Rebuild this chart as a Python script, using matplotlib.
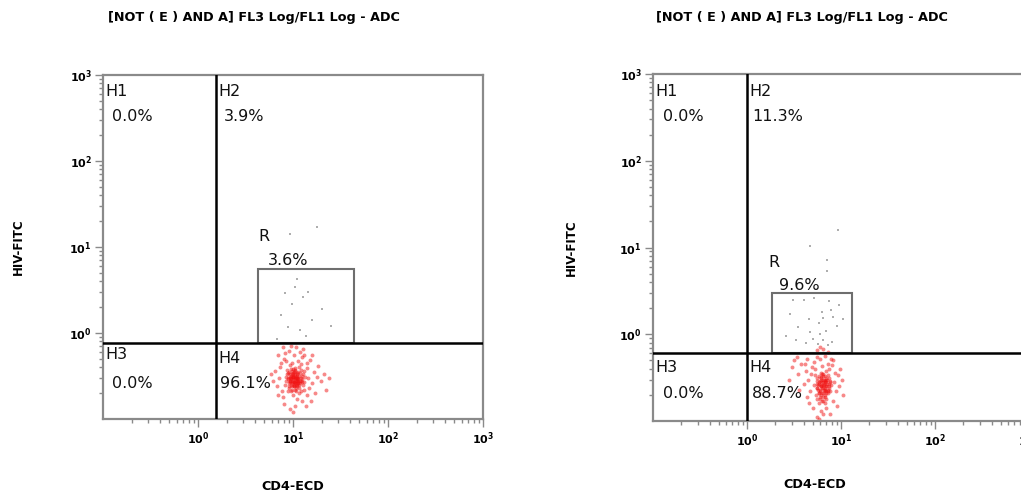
import matplotlib
matplotlib.use('Agg')
import matplotlib.pyplot as plt
from matplotlib.patches import Rectangle
from matplotlib.ticker import LogLocator, FixedLocator, FixedFormatter, NullFormatter

plt.rcParams['font.family'] = ['DejaVu Sans']

# ---------------- data ----------------
title_text = "[NOT ( E ) AND A] FL3 Log/FL1 Log - ADC"
x_label = "CD4-ECD"
y_label = "HIV-FITC"
major_ticks = [1, 10, 100, 1000]
major_tick_labels = [r'$\mathregular{10^{0}}$', r'$\mathregular{10^{1}}$',
                     r'$\mathregular{10^{2}}$', r'$\mathregular{10^{3}}$']
quadrant_names = ["H1", "H2", "H3", "H4"]
left_pcts = ["0.0%", "3.9%", "0.0%", "96.1%"]
right_pcts = ["0.0%", "11.3%", "0.0%", "88.7%"]
region_name = "R"
left_region_pct = "3.6%"
right_region_pct = "9.6%"

# quadrant gates (x, y)
left_gate = (1.55, 0.76)
right_gate = (1.0, 0.6)
# region R box (x0, x1, y0, y1)
left_box = (4.3, 44.0, 0.76, 5.6)
right_box = (1.85, 13.0, 0.6, 3.0)

# events, left sample (red = H4 population)
left_red_x = [9.2, 10.1, 11.3, 8.7, 12.4, 9.8, 10.6, 11.9, 8.3, 13.1,
              9.5, 10.9, 12.0, 8.9, 11.5, 10.3, 9.0, 12.8, 10.7, 9.6,
              11.1, 8.5, 13.4, 10.0, 11.7, 9.3, 12.2, 10.4, 8.8, 11.0,
              9.9, 12.6, 10.2, 9.4, 11.4, 10.8, 8.6, 13.0, 9.7, 11.2,
              10.5, 9.1, 12.1, 10.6, 11.8, 8.4, 12.9, 9.6, 10.9, 11.6,
              7.2, 6.8, 7.5, 14.5, 15.8, 16.5, 7.9, 14.2, 6.5, 17.8,
              8.1, 12.5, 10.2, 9.0, 11.8, 13.9, 7.0, 15.2, 9.5, 10.8,
              8.0, 10.5, 12.3, 9.2, 11.1, 13.6, 7.6, 14.8, 19.5, 21.0,
              6.2, 16.9, 18.2, 7.3, 13.2, 8.5, 11.4, 14.0, 6.9, 15.5,
              9.8, 12.0, 10.0, 8.2, 16.0, 24.0, 7.8, 12.7, 22.0, 5.9,
              9.9, 10.4, 10.0, 9.7, 10.8, 11.0, 9.5, 10.2, 10.6, 9.3,
              10.1, 11.2, 9.8, 10.5, 10.9, 9.6, 10.3, 11.4, 9.4, 10.7,
              10.0, 9.9, 10.6, 11.1, 9.2, 10.4, 10.8, 9.7, 11.3, 10.2,
              9.0, 12.0, 11.6, 8.8, 12.3, 9.1, 11.8, 8.9, 12.5, 10.5,
              9.6, 10.9, 10.1, 11.5, 9.4, 10.3, 11.0, 9.8, 10.7, 10.0]
left_red_y = [0.28, 0.31, 0.26, 0.33, 0.29, 0.22, 0.36, 0.34, 0.25, 0.27,
              0.38, 0.24, 0.21, 0.30, 0.40, 0.27, 0.35, 0.33, 0.30, 0.25,
              0.32, 0.28, 0.31, 0.19, 0.23, 0.42, 0.37, 0.33, 0.21, 0.28,
              0.31, 0.25, 0.24, 0.27, 0.35, 0.21, 0.37, 0.22, 0.33, 0.30,
              0.26, 0.23, 0.28, 0.39, 0.26, 0.31, 0.36, 0.29, 0.34, 0.20,
              0.30, 0.24, 0.45, 0.30, 0.26, 0.35, 0.18, 0.19, 0.36, 0.31,
              0.50, 0.52, 0.55, 0.62, 0.60, 0.45, 0.55, 0.48, 0.70, 0.68,
              0.15, 0.14, 0.16, 0.13, 0.17, 0.14, 0.21, 0.23, 0.28, 0.33,
              0.28, 0.20, 0.41, 0.40, 0.56, 0.47, 0.47, 0.39, 0.19, 0.16,
              0.45, 0.44, 0.12, 0.58, 0.55, 0.30, 0.68, 0.66, 0.22, 0.33,
              0.27, 0.29, 0.31, 0.26, 0.28, 0.33, 0.30, 0.25, 0.32, 0.28,
              0.34, 0.27, 0.24, 0.30, 0.26, 0.32, 0.35, 0.29, 0.30, 0.23,
              0.29, 0.33, 0.27, 0.25, 0.31, 0.22, 0.31, 0.36, 0.28, 0.27,
              0.26, 0.30, 0.32, 0.29, 0.27, 0.24, 0.28, 0.34, 0.32, 0.37,
              0.21, 0.29, 0.38, 0.25, 0.33, 0.24, 0.30, 0.28, 0.25, 0.32]
left_grey_x = [10.5, 12.7, 9.8, 16.0, 8.9, 11.8, 13.7, 7.5, 20.0, 14.5, 9.3, 18.0, 6.8, 25.0, 11.0, 8.2]
left_grey_y = [3.4, 2.6, 2.2, 1.4, 1.17, 1.08, 0.92, 1.6, 1.9, 3.0, 14.0, 17.0, 0.85, 1.2, 4.2, 2.9]

# events, right sample
right_red_x = [6.2, 5.8, 6.8, 5.5, 7.1, 6.0, 6.5, 7.4, 5.2, 6.9,
               6.3, 5.7, 7.6, 6.1, 5.4, 7.0, 6.6, 5.9, 7.3, 6.4,
               5.6, 6.7, 7.8, 6.0, 5.3, 7.2, 6.5, 5.8, 6.9, 6.2,
               7.5, 5.5, 6.7, 6.1, 7.0, 5.9, 6.4, 7.7, 5.6, 6.8,
               4.5, 4.2, 3.8, 4.9, 8.5, 9.2, 8.8, 4.7, 3.5, 9.8,
               5.1, 6.0, 7.2, 4.4, 8.0, 3.2, 5.6, 6.8, 7.9, 4.0,
               5.0, 6.1, 5.5, 7.0, 6.4, 4.6, 8.2, 5.9, 4.3, 9.5,
               3.6, 10.2, 8.7, 3.0, 4.8, 7.4, 6.3, 5.3, 8.3, 4.1,
               10.5, 2.8, 9.0, 7.6, 3.4, 5.5, 6.5, 7.2, 6.0,
               6.3, 6.6, 6.0, 6.9, 6.2, 6.5, 7.0, 5.9, 6.4, 6.8,
               6.1, 6.7, 7.2, 5.7, 6.3, 6.9, 6.5, 6.0, 7.4, 6.2,
               6.6, 5.8, 7.1, 6.4, 6.8, 6.1, 7.3, 6.7, 5.6, 6.5,
               6.9, 6.2, 7.5, 6.0, 6.6, 7.0, 5.5, 6.3, 7.7, 6.8]
right_red_y = [0.25, 0.28, 0.22, 0.31, 0.27, 0.19, 0.33, 0.24, 0.26, 0.30,
               0.21, 0.23, 0.29, 0.36, 0.20, 0.18, 0.27, 0.33, 0.34, 0.17,
               0.29, 0.24, 0.26, 0.23, 0.34, 0.21, 0.30, 0.16, 0.38, 0.28,
               0.31, 0.24, 0.20, 0.31, 0.25, 0.21, 0.35, 0.22, 0.18, 0.28,
               0.30, 0.38, 0.45, 0.42, 0.28, 0.34, 0.22, 0.22, 0.35, 0.40,
               0.48, 0.52, 0.46, 0.52, 0.44, 0.50, 0.55, 0.56, 0.52, 0.27,
               0.14, 0.13, 0.11, 0.14, 0.12, 0.16, 0.17, 0.105, 0.19, 0.25,
               0.23, 0.30, 0.36, 0.42, 0.35, 0.40, 0.43, 0.40, 0.50, 0.46,
               0.20, 0.30, 0.15, 0.12, 0.55, 0.65, 0.68, 0.63, 0.72,
               0.24, 0.26, 0.22, 0.28, 0.30, 0.21, 0.25, 0.27, 0.19, 0.23,
               0.32, 0.29, 0.22, 0.26, 0.17, 0.31, 0.24, 0.29, 0.27, 0.20,
               0.23, 0.21, 0.30, 0.26, 0.19, 0.25, 0.23, 0.33, 0.24, 0.28,
               0.22, 0.26, 0.25, 0.18, 0.30, 0.21, 0.27, 0.35, 0.28, 0.16]
right_grey_x = [3.1, 4.0, 5.2, 7.5, 9.5, 6.3, 8.2, 4.6, 3.5, 5.8, 7.0, 9.0, 2.6, 3.3, 4.2,
                5.0, 5.7, 6.5, 7.3, 8.1, 4.7, 6.0, 10.5, 2.9, 7.8, 4.7, 7.1, 7.1, 9.3, 6.5]
right_grey_y = [2.45, 2.5, 2.6, 2.4, 2.2, 1.8, 1.6, 1.5, 1.2, 1.35, 1.1, 1.25, 0.95, 0.85, 0.8,
                0.88, 0.78, 0.85, 0.76, 0.82, 1.05, 1.0, 1.5, 1.7, 1.9, 10.5, 7.1, 5.4, 16.0, 1.55]


def style_axis(ax):
    ax.set_xscale('log')
    ax.set_yscale('log')
    ax.set_xlim(0.1, 1000)
    ax.set_ylim(0.1, 1000)
    for axis in (ax.xaxis, ax.yaxis):
        axis.set_major_locator(FixedLocator(major_ticks))
        axis.set_major_formatter(FixedFormatter(major_tick_labels))
        axis.set_minor_locator(LogLocator(base=10, subs=range(2, 10), numticks=20))
        axis.set_minor_formatter(NullFormatter())
    ax.tick_params(which='major', direction='out', length=6, width=1.0,
                   color='#8a8a8a', labelsize=8, pad=2)
    ax.tick_params(which='minor', direction='out', length=3, width=1.0, color='#8a8a8a')
    for lab in ax.get_xticklabels() + ax.get_yticklabels():
        lab.set_fontweight('bold')
    for sp in ax.spines.values():
        sp.set_color('#8a8a8a')
        sp.set_linewidth(1.6)


def draw_panel(ax, red_x, red_y, grey_x, grey_y, gate, box, pcts, region_pct, pos,
               xlabel_y, ylabel_x):
    style_axis(ax)
    ax.scatter(red_x, red_y, s=8, marker='o', color='#f01414', alpha=0.5,
               linewidths=0, zorder=2)
    ax.scatter(grey_x, grey_y, s=3, marker='s', color='#8c8c8c', alpha=0.7,
               linewidths=0, zorder=2)
    gx, gy = gate
    ax.axvline(gx, color='black', lw=1.8, zorder=4)
    ax.axhline(gy, color='black', lw=1.8, zorder=4)
    x0, x1, y0, y1 = box
    ax.add_patch(Rectangle((x0, y0), x1 - x0, y1 - y0, fill=False,
                           edgecolor='#6e6e6e', lw=1.5, zorder=3))
    fs = 11.5
    for (nx, ny, px_, py_), name, pct in zip(pos['quad'], quadrant_names, pcts):
        ax.text(nx, ny, name, fontsize=fs, ha='left', va='center', color='#111111', zorder=5)
        ax.text(px_, py_, pct, fontsize=fs, ha='left', va='center', color='#111111', zorder=5)
    rx, ry, rpx, rpy = pos['region']
    ax.text(rx, ry, region_name, fontsize=fs, ha='left', va='center', color='#111111', zorder=5)
    ax.text(rpx, rpy, region_pct, fontsize=fs, ha='left', va='center', color='#111111', zorder=5)
    ax.set_xlabel(x_label, fontsize=9.2, fontweight='bold', va='center')
    ax.set_ylabel(y_label, fontsize=8.5, fontweight='bold', va='center')
    ax.xaxis.set_label_coords(0.5, xlabel_y)
    ax.yaxis.set_label_coords(ylabel_x, 0.5)


fig = plt.figure(figsize=(10.21, 4.95), dpi=100)
ax1 = fig.add_axes([103 / 1021, 1 - 419 / 495, 380 / 1021, 344 / 495])
ax2 = fig.add_axes([653 / 1021, 1 - 421 / 495, 376 / 1021, 347 / 495])

left_pos = {'quad': [(0.105, 650, 0.124, 325), (1.62, 650, 1.88, 325),
                     (0.105, 0.56, 0.124, 0.26), (1.62, 0.51, 1.72, 0.26)],
            'region': (4.28, 13.2, 5.4, 6.97)}
right_pos = {'quad': [(0.105, 635, 0.128, 320), (1.05, 635, 1.13, 320),
                      (0.105, 0.41, 0.128, 0.21), (1.05, 0.41, 1.13, 0.21)],
             'region': (1.67, 6.7, 2.19, 3.66)}

draw_panel(ax1, left_red_x, left_red_y, left_grey_x, left_grey_y, left_gate, left_box,
           left_pcts, left_region_pct, left_pos,
           xlabel_y=(419 - 486) / 344, ylabel_x=(18 - 103) / 380)
draw_panel(ax2, right_red_x, right_red_y, right_grey_x, right_grey_y, right_gate, right_box,
           right_pcts, right_region_pct, right_pos,
           xlabel_y=(421 - 485) / 347, ylabel_x=(571 - 653) / 376)
# centre the x labels under the visible axis extent as in the reference
ax1.xaxis.set_label_coords((293 - 103) / 380, (419 - 486) / 344)
ax2.xaxis.set_label_coords((815 - 653) / 376, (421 - 485) / 347)

fig.text(254 / 1021, 1 - 17 / 495, title_text, ha='center', va='center',
         fontsize=9.2, fontweight='bold')
fig.text(802 / 1021, 1 - 18 / 495, title_text, ha='center', va='center',
         fontsize=9.2, fontweight='bold')

fig.savefig('out.png', dpi=100)
